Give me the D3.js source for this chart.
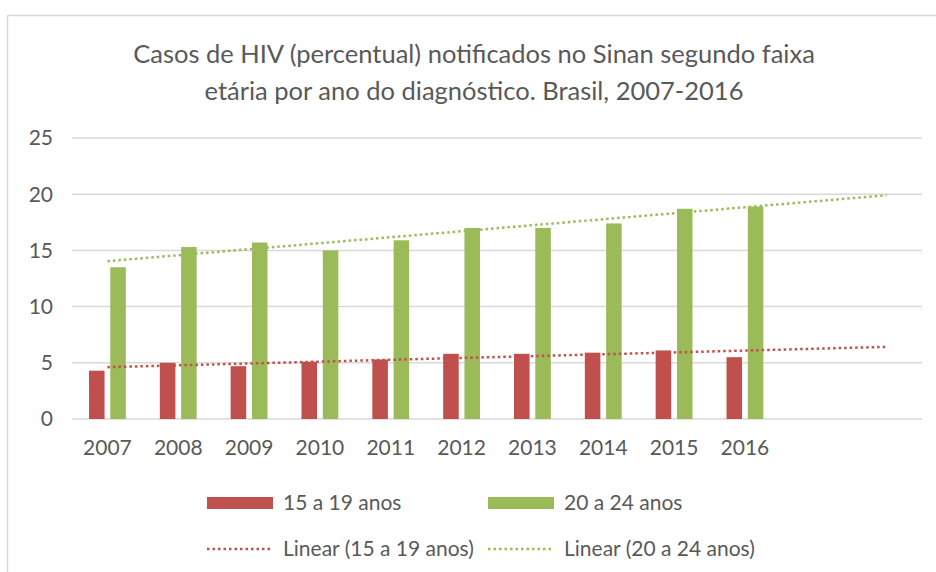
<!DOCTYPE html>
<html>
<head>
<meta charset="utf-8">
<script src="https://cdn.jsdelivr.net/npm/d3@7"></script>
<style>
  body { margin: 0; background: #fff; }
  svg { display: block; font-family: Lato, sans-serif; }
</style>
</head>
<body>
<svg width="936" height="572"></svg>
<script>
const years = [2007, 2008, 2009, 2010, 2011, 2012, 2013, 2014, 2015, 2016];
const forecastYears = [2017, 2018]; // trendline forward forecast, no bars
const teen = [4.3, 5.0, 4.7, 5.1, 5.3, 5.8, 5.8, 5.9, 6.1, 5.5];      // 15 a 19 anos
const young = [13.5, 15.3, 15.7, 15.0, 15.9, 17.0, 17.0, 17.4, 18.7, 18.9]; // 20 a 24 anos
const seriesNames = ["15 a 19 anos", "20 a 24 anos"];
const yTicks = [0, 5, 10, 15, 20, 25];
const titleLines = [
  "Casos de HIV (percentual) notificados no Sinan segundo faixa",
  "etária por ano do diagnóstico. Brasil, 2007-2016"
];

const colors = ["#C0504D", "#9BBB59"];
const textColor = "#595959";
const gridColor = "#d9d9d9";

const svg = d3.select("svg");
const plotL = 72, plotR = 922, plotT = 138, plotB = 419;

// chart frame
svg.append("rect")
  .attr("x", 7.5).attr("y", 15.5)
  .attr("width", 940).attr("height", 570)
  .attr("fill", "none").attr("stroke", gridColor).attr("stroke-width", 1.5);

svg.selectAll(".title")
  .data(titleLines)
  .enter().append("text")
  .attr("class", "title")
  .attr("x", 474)
  .attr("y", (d, i) => 63 + i * 37)
  .attr("text-anchor", "middle")
  .attr("fill", textColor)
  .style("font-size", "25.5px")
  .text(d => d);

const allYears = years.concat(forecastYears);

const x = d3.scaleBand()
  .domain(allYears)
  .range([plotL, plotR])
  .paddingInner(0.48)
  .paddingOuter(0.24);

const xSub = d3.scaleBand()
  .domain([0, 1])
  .range([0, x.bandwidth()])
  .paddingInner(0.27);

const y = d3.scaleLinear().domain([0, 25]).range([plotB, plotT]);
const cx = d => x(d) + x.bandwidth() / 2;

// gridlines
svg.append("g")
  .selectAll("line")
  .data(yTicks)
  .enter().append("line")
  .attr("x1", plotL).attr("x2", plotR)
  .attr("y1", d => y(d)).attr("y2", d => y(d))
  .attr("stroke", gridColor).attr("stroke-width", 1.5);

// y labels
svg.append("g")
  .selectAll("text")
  .data(yTicks)
  .enter().append("text")
  .attr("x", 53)
  .attr("y", d => y(d))
  .attr("dy", "0.35em")
  .attr("text-anchor", "end")
  .attr("fill", textColor)
  .style("font-size", "21px")
  .text(d => d);

// x labels
svg.append("g")
  .selectAll("text")
  .data(years)
  .enter().append("text")
  .attr("x", cx)
  .attr("y", 455)
  .attr("text-anchor", "middle")
  .attr("fill", textColor)
  .style("font-size", "21px")
  .text(d => d);

// bars
const series = [teen, young];
series.forEach((vals, s) => {
  svg.append("g")
    .selectAll("rect")
    .data(vals)
    .enter().append("rect")
    .attr("x", (d, i) => x(years[i]) + xSub(s))
    .attr("width", xSub.bandwidth())
    .attr("y", d => y(d))
    .attr("height", d => y(0) - y(d))
    .attr("fill", colors[s]);
});

// linear trendline (least squares on category index)
function trend(vals) {
  const mx = d3.mean(vals, (d, i) => i);
  const my = d3.mean(vals);
  const sxy = d3.sum(vals, (d, i) => (i - mx) * (d - my));
  const sxx = d3.sum(vals, (d, i) => (i - mx) * (i - mx));
  const b = sxy / sxx;
  return i => my + b * (i - mx);
}

series.forEach((vals, s) => {
  const f = trend(vals);
  const ends = [0, allYears.length - 1];
  svg.append("path")
    .datum(ends)
    .attr("d", d3.line()
      .x(i => cx(allYears[i]))
      .y(i => y(f(i))))
    .attr("fill", "none")
    .attr("stroke", colors[s])
    .attr("stroke-width", 2.5)
    .attr("stroke-dasharray", "2.5 3");
});

// legend
const legX = [207, 488];
const leg = svg.append("g");
seriesNames.forEach((name, s) => {
  leg.append("rect")
    .attr("x", legX[s]).attr("y", 497)
    .attr("width", 66).attr("height", 12)
    .attr("fill", colors[s]);
  leg.append("text")
    .attr("x", legX[s] + 76).attr("y", 503)
    .attr("dy", "0.35em")
    .attr("fill", textColor)
    .style("font-size", "21px")
    .text(name);
  leg.append("line")
    .attr("x1", legX[s]).attr("x2", legX[s] + 66)
    .attr("y1", 549).attr("y2", 549)
    .attr("stroke", colors[s])
    .attr("stroke-width", 2.5)
    .attr("stroke-dasharray", "2.5 3");
  leg.append("text")
    .attr("x", legX[s] + 76).attr("y", 549)
    .attr("dy", "0.35em")
    .attr("fill", textColor)
    .style("font-size", "21px")
    .text("Linear (" + name + ")");
});
</script>
</body>
</html>
